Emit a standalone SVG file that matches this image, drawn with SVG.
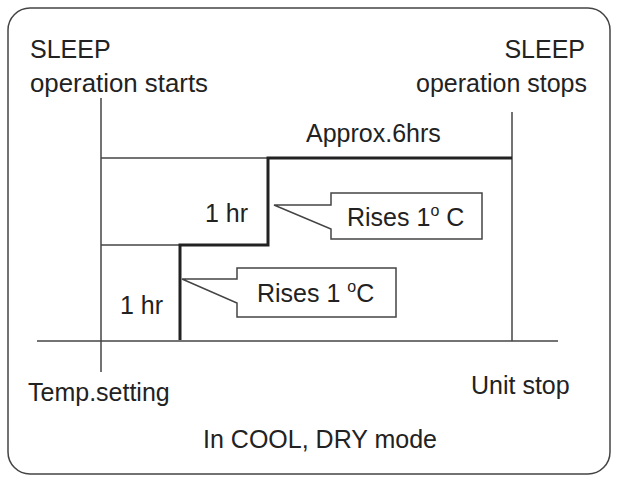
<svg xmlns="http://www.w3.org/2000/svg" width="618" height="482" viewBox="0 0 618 482">
<style>
text{font-family:"Liberation Sans",Arial,sans-serif;font-size:25px;fill:#222}
.thin{stroke:#444;stroke-width:1.5;fill:none}
.thick{stroke:#222;stroke-width:3;fill:none}
.call{stroke:#444;stroke-width:1.5;fill:#fff}
</style>
<rect width="618" height="482" fill="#fff"/>
<rect x="8" y="8" width="602" height="466" rx="22" fill="none" stroke="#444" stroke-width="1.5"/>
<g id="connectors">
<line class="thin" x1="101" y1="98" x2="101" y2="372"/>
<line class="thin" x1="512" y1="112" x2="512" y2="341"/>
<line class="thin" x1="37" y1="341" x2="558" y2="341"/>
<line class="thin" x1="101" y1="158" x2="268" y2="158"/>
<line class="thin" x1="101" y1="245" x2="180" y2="245"/>
<polyline class="thick" points="180,340 180,245 268,245 268,158 512,158"/>
</g>
<g id="start"><text x="30" y="58" font-size="24">SLEEP</text><text x="30" y="92" textLength="178" lengthAdjust="spacingAndGlyphs">operation starts</text></g>
<g id="stop"><text x="585" y="58" text-anchor="end" font-size="24">SLEEP</text><text x="587" y="92" text-anchor="end">operation stops</text></g>
<g id="approx"><text x="306" y="142">Approx.6hrs</text></g>
<g id="hr1"><text x="205" y="222">1 hr</text></g>
<g id="hr2"><text x="120" y="314">1 hr</text></g>
<g id="call1"><path class="call" d="M331,193 H482 V239 H331 V229 L274,205 H331 Z"/><text x="347" y="226">Rises 1<tspan font-size="16" dy="-10">o</tspan><tspan dy="10"> C</tspan></text></g>
<g id="call2"><path class="call" d="M237,268 H396 V317 H237 V303 L182,279 H237 Z"/><text x="257" y="302">Rises 1 <tspan font-size="16" dy="-10">o</tspan><tspan dy="10">C</tspan></text></g>
<g id="temp"><text x="28" y="401" font-size="26">Temp.setting</text></g>
<g id="unit"><text x="471" y="394" font-size="26">Unit stop</text></g>
<g id="mode"><text x="320" y="448" text-anchor="middle" font-size="30">In COOL, DRY mode</text></g>
</svg>
